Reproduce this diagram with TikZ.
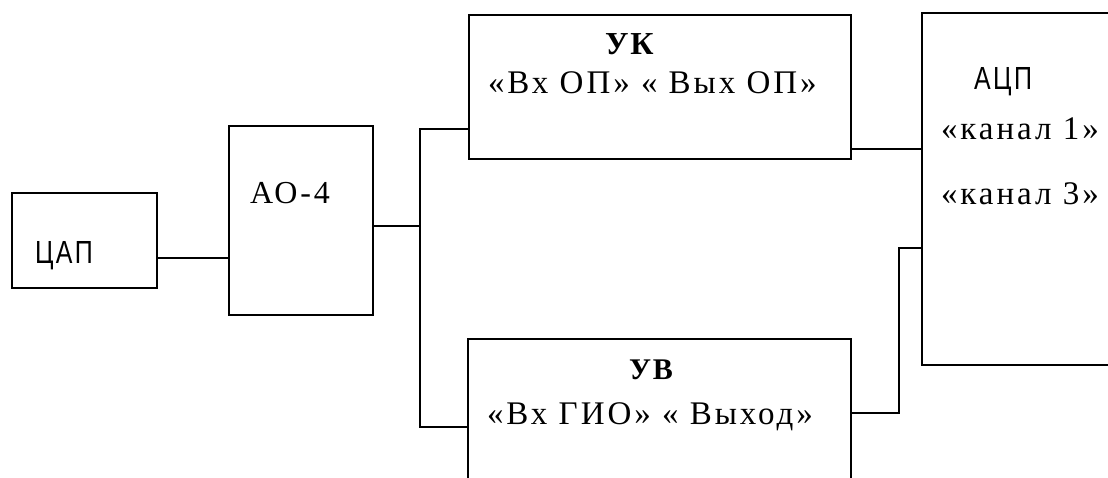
\documentclass[tikz,border=0pt]{standalone}
\usepackage{fontspec}
\setmainfont{Liberation Serif}
\newfontfamily\sansf{Liberation Sans}[LetterSpace=10]
\newfontfamily\serifsp{Liberation Serif}[LetterSpace=9]
\newfontfamily\serifbd{Liberation Serif}[LetterSpace=6]
\begin{document}
\begin{tikzpicture}[x=1pt,y=-1pt,
  box/.style={draw, line width=1.3pt, rectangle, inner sep=0pt},
  wire/.style={line width=1.2pt},
  lbl/.style={anchor=base west, inner sep=0pt, outer sep=0pt},
  sanslbl/.style={lbl, font=\sansf\fontsize{32}{32}\selectfont},
  seriflbl/.style={lbl, font=\serifsp\fontsize{33}{33}\selectfont},
  boldlbl/.style={lbl, font=\serifbd\bfseries\fontsize{32}{32}\selectfont}]
\useasboundingbox (0,0) rectangle (1108,478);
\clip (0,0) rectangle (1108,478);
% boxes
\node[box, minimum width=145pt, minimum height=95pt] (dac) at (84.5,240.5) {};
\node[box, minimum width=144pt, minimum height=189pt] (ao) at (301,220.5) {};
\node[box, minimum width=382pt, minimum height=144pt] (uk) at (660,87) {};
\node[box, minimum width=383pt, minimum height=170pt] (uv) at (659.5,424) {};
\node[box, minimum width=220pt, minimum height=352pt] (adc) at (1032,189) {};
% labels
\node[sanslbl] (dact) at (35,264) {\scalebox{0.78}[1]{ЦАП}};
\node[seriflbl, font=\serifsp\fontsize{32}{32}\selectfont] (aot) at (250,204) {АО-4};
\node[boldlbl] (ukt) at (605,55) {УК};
\node[seriflbl] (ukt2) at (488,94) {«Вх ОП» « Вых ОП»};
\node[boldlbl, font=\serifbd\bfseries\fontsize{30}{30}\selectfont] (uvt) at (629,379) {УВ};
\node[seriflbl] (uvt2) at (487,424) {«Вх ГИО» « Выход»};
\node[sanslbl] (adct) at (974,90) {\scalebox{0.78}[1]{АЦП}};
\node[seriflbl] (adct1) at (941,140) {«канал 1»};
\node[seriflbl] (adct3) at (941,205) {«канал 3»};
% connectors
\path (dac.east) ++(0,17.5) coordinate (d1);
\draw[wire] (d1) -- (d1 -| ao.west);
\coordinate (j) at (420,226);
\draw[wire] (ao.east |- j) -- (j);
\path (uk.west) ++(0,42) coordinate (uki);
\path (uv.west) ++(0,3) coordinate (uvi);
\draw[wire] (uki) -| (j) |- (uvi);
\path (uk.east) ++(0,62) coordinate (uko);
\draw[wire] (uko) -- (uko -| adc.west);
\path (uv.east) ++(0,-11) coordinate (uvo);
\coordinate (a3) at (899,248);
\draw[wire] (uvo) -| (a3) -- (a3 -| adc.west);
\end{tikzpicture}
\end{document}
